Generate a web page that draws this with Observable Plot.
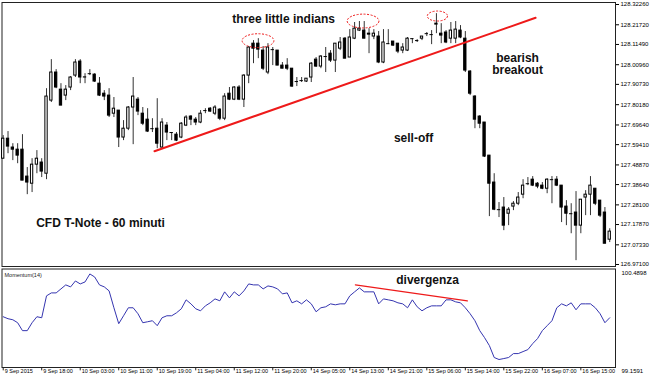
<!DOCTYPE html>
<html><head><meta charset="utf-8">
<script src="https://cdn.jsdelivr.net/npm/d3@7"></script>
<script src="https://cdn.jsdelivr.net/npm/@observablehq/plot@0.6"></script>
<style>html,body{margin:0;padding:0;background:#fff;}#chart{width:650px;height:378px;overflow:hidden;}#chart svg{display:block;}</style>
</head><body><div id="chart"></div><script>
const open = [
127.521,127.625,127.579,127.568,127.568,127.428,127.391,127.490,127.501,127.443,
127.823,127.969,127.880,127.849,127.891,127.953,128.026,127.943,127.963,127.958,
127.911,127.859,127.849,127.755,127.771,127.631,127.677,127.787,127.828,127.755,
127.724,127.677,127.677,127.579,127.693,127.657,127.646,127.631,127.693,127.740,
127.724,127.709,127.771,127.781,127.755,127.776,127.729,127.859,127.828,127.891,
127.828,127.953,128.119,128.119,128.083,127.969,128.088,128.083,128.005,128.005,
127.989,127.922,127.927,127.922,127.943,128.036,128.000,128.052,128.067,128.031,
128.093,128.145,128.047,128.145,128.187,128.187,128.171,128.156,128.156,128.021,
128.119,128.130,128.119,128.083,128.083,128.145,128.135,128.145,128.171,128.166,
128.218,128.171,128.177,128.145,128.145,128.187,128.145,127.974,127.844,127.740,
127.709,127.537,127.397,127.256,127.267,127.235,127.272,127.287,127.334,127.391,
127.412,127.391,127.381,127.365,127.412,127.412,127.381,127.272,127.235,127.241,
127.173,127.319,127.334,127.365,127.303,127.241,127.100];
const high = [
127.641,127.662,127.599,127.599,127.646,127.475,127.521,127.563,127.521,127.885,
128.036,127.984,127.911,127.901,127.948,128.036,128.036,127.963,127.984,127.963,
127.943,127.875,127.885,127.839,127.771,127.719,127.792,127.943,127.839,127.787,
127.781,127.729,127.833,127.729,127.709,127.657,127.657,127.709,127.745,127.745,
127.735,127.771,127.781,127.787,127.797,127.781,127.859,127.891,127.896,127.901,
127.958,128.104,128.135,128.145,128.104,128.119,128.099,128.083,128.021,128.041,
127.989,127.943,127.943,127.937,128.021,128.047,128.057,128.099,128.083,128.119,
128.151,128.151,128.192,128.229,128.234,128.234,128.197,128.192,128.182,128.192,
128.192,128.130,128.119,128.119,128.151,128.145,128.140,128.156,128.177,128.187,
128.275,128.223,128.187,128.229,128.234,128.213,128.182,127.979,127.849,127.745,
127.709,127.537,127.443,127.293,127.319,127.267,127.298,127.345,127.412,127.423,
127.428,127.397,127.397,127.417,127.428,127.428,127.381,127.303,127.287,127.350,
127.308,127.355,127.428,127.365,127.303,127.267,127.157];
const low = [
127.521,127.547,127.511,127.495,127.407,127.334,127.345,127.443,127.423,127.412,
127.813,127.885,127.797,127.823,127.875,127.943,127.911,127.911,127.953,127.917,
127.844,127.823,127.735,127.735,127.579,127.615,127.667,127.594,127.745,127.693,
127.657,127.657,127.573,127.573,127.615,127.615,127.610,127.625,127.688,127.693,
127.693,127.703,127.755,127.761,127.745,127.719,127.719,127.823,127.823,127.823,
127.787,127.911,128.015,128.041,127.979,127.958,128.005,128.005,127.989,127.979,
127.891,127.896,127.917,127.917,127.917,127.995,127.989,127.969,128.021,127.969,
128.083,128.041,128.047,128.140,128.182,128.145,128.067,128.140,128.015,128.015,
128.114,128.104,128.067,128.067,128.078,128.119,128.125,128.135,128.156,128.114,
128.171,128.119,128.119,128.119,128.119,128.145,127.969,127.849,127.677,127.677,
127.527,127.220,127.251,127.215,127.147,127.173,127.251,127.277,127.313,127.381,
127.376,127.365,127.360,127.339,127.287,127.376,127.189,127.173,127.131,126.991,
127.131,127.225,127.225,127.277,127.215,127.079,127.085];
const close = [
127.625,127.584,127.568,127.537,127.407,127.397,127.490,127.521,127.454,127.844,
127.969,127.891,127.797,127.880,127.943,128.021,127.943,127.944,127.963,127.922,
127.849,127.844,127.745,127.781,127.631,127.677,127.787,127.844,127.766,127.703,
127.662,127.677,127.599,127.709,127.657,127.657,127.615,127.703,127.735,127.724,
127.709,127.755,127.771,127.766,127.787,127.729,127.844,127.828,127.891,127.828,
127.953,128.099,128.093,128.088,127.989,128.099,128.088,128.005,127.989,127.989,
127.896,127.922,127.927,127.937,128.015,128.000,128.052,128.052,128.031,128.119,
128.125,128.041,128.151,128.197,128.197,128.145,128.166,128.171,128.021,128.125,
128.119,128.109,128.078,128.099,128.145,128.145,128.135,128.156,128.171,128.166,
128.223,128.161,128.125,128.187,128.192,128.151,127.979,127.859,127.724,127.703,
127.532,127.391,127.256,127.256,127.173,127.256,127.287,127.319,127.381,127.391,
127.381,127.376,127.365,127.412,127.412,127.381,127.267,127.235,127.235,127.173,
127.308,127.334,127.381,127.287,127.225,127.079,127.142];
const momentum = [
99.845,99.818,99.804,99.764,99.657,99.657,99.764,99.845,99.831,100.127,
100.167,100.167,100.221,100.275,100.248,100.328,100.288,100.315,100.423,100.382,
100.275,100.248,100.194,99.966,99.751,99.858,99.966,99.966,99.885,99.764,
99.777,99.791,99.724,99.831,99.858,99.858,99.898,99.952,100.073,100.019,
99.952,99.925,99.992,100.033,100.086,100.060,100.181,100.100,100.181,100.127,
100.194,100.288,100.275,100.275,100.221,100.261,100.248,100.221,100.154,100.167,
100.033,100.060,100.019,100.073,100.019,99.912,99.966,99.979,100.019,100.006,
100.019,100.019,100.127,100.181,100.234,100.181,100.181,100.181,100.019,100.086,
100.073,100.060,100.033,100.019,99.966,100.073,99.979,99.925,99.966,99.992,
99.992,99.992,100.073,100.073,100.046,100.033,99.966,99.885,99.791,99.657,
99.562,99.455,99.294,99.267,99.280,99.294,99.347,99.347,99.374,99.401,
99.482,99.549,99.657,99.724,99.791,99.966,100.019,99.992,100.033,99.939,
100.019,100.019,100.019,99.966,99.885,99.764,99.831];
const timeLabels = ["9 Sep 2015","9 Sep 18:00","10 Sep 03:00","10 Sep 11:00","10 Sep 19:00","11 Sep 04:00","11 Sep 12:00","11 Sep 20:00","14 Sep 05:00","14 Sep 13:00","14 Sep 21:00","15 Sep 06:00","15 Sep 14:00","15 Sep 22:00","16 Sep 07:00","16 Sep 15:00"];
const timeTickIdx = [0,8,16,24,32,40,48,56,64,72,80,88,96,104,112,120];
const priceTicks = [128.3226,128.2172,128.1149,128.0096,127.9073,127.8018,127.6964,127.5941,127.4887,127.3864,127.2810,127.1787,127.0733,126.9710];
const momTicks = [100.4898, 99.1591];
const trendX = [31.43, 110.6];
const trendY = [127.560, 128.2535];
const divX = [73.16, 96.43];
const divY = [100.275, 100.060];
const ellX = [53.04, 74.86, 90.3];
const ellY = [128.132, 128.234, 128.260];
const ellRx = [3.3, 3.3, 2.1];
const ellRy = [0.036, 0.036, 0.026];
const noteText = ["three little indians", "bearish\nbreakout", "sell-off", "CFD T-Note - 60 minuti"];
const noteX = [58.24, 106.85, 85.25, 20.22];
const noteY = [128.250, 128.0143, 127.6286, 127.1893];
const divNoteText = ["divergenza"];
const divNoteX = [88.16];
const divNoteY = [100.334];

const candles = open.map((o, i) => ({i, o, h: high[i], l: low[i], c: close[i]}));
const font = "'Liberation Sans', Arial, sans-serif";
const ink = "#111";
const red = "#ee1a1a";
const xDomain = [-0.25, 127.2];

const ellipses = (index, scales) => {
  const g = d3.create("svg:g").attr("fill", "none").attr("stroke", red).attr("stroke-width", 1).attr("stroke-dasharray", "2,1.5");
  ellX.forEach((x, k) => {
    const cx = scales.x(x), cy = scales.y(ellY[k]);
    g.append("ellipse").attr("cx", cx).attr("cy", cy)
      .attr("rx", scales.x(x + ellRx[k]) - cx)
      .attr("ry", scales.y(ellY[k] - ellRy[k]) - cy);
  });
  return g.node();
};

const topPlot = Plot.plot({
  width: 650, height: 268,
  marginLeft: 1.5, marginRight: 35, marginTop: 2, marginBottom: 2,
  style: {fontFamily: font, fontSize: "6px", background: "#fff", color: "#000"},
  x: {domain: xDomain, axis: null},
  y: {domain: [126.9606, 128.3330], axis: "right", ticks: priceTicks, tickFormat: d => d.toFixed(5), tickSize: 3, tickPadding: 2, label: null},
  marks: [
    Plot.frame({stroke: "#222"}),
    Plot.ruleX(candles, {x: "i", y1: "l", y2: "h", stroke: "#333"}),
    Plot.rect(candles, {x1: d => d.i - 0.24, x2: d => d.i + 0.24, y1: "o", y2: "c", fill: d => d.c > d.o ? "#fff" : "#000", stroke: "#000", strokeWidth: 1}),
    Plot.ruleY(candles.filter(d => d.o === d.c), {y: "o", x1: d => d.i - 0.35, x2: d => d.i + 0.35, stroke: "#000"}),
    Plot.line(trendX.map((x, k) => ({x, y: trendY[k]})), {x: "x", y: "y", stroke: red, strokeWidth: 2}),
    ellipses,
    Plot.text(noteText.map((t, k) => ({t, x: noteX[k], y: noteY[k]})), {x: "x", y: "y", text: "t", fontSize: 12, fontWeight: "bold", fill: ink, lineHeight: 1.05})
  ]
});

const botPlot = Plot.plot({
  width: 650, height: 110,
  marginLeft: 1.5, marginRight: 35, marginTop: 0.5, marginBottom: 11,
  style: {fontFamily: font, fontSize: "6px", background: "#fff", color: "#000"},
  x: {domain: xDomain, axis: null},
  y: {domain: [99.1591, 100.4898], axis: null},
  marks: [
    Plot.frame({stroke: "#222"}),
    Plot.line(momentum, {x: (d, i) => i, y: d => d, stroke: "#3535b0", strokeWidth: 1}),
    Plot.line(divX.map((x, k) => ({x, y: divY[k]})), {x: "x", y: "y", stroke: red, strokeWidth: 1.2}),
    Plot.text(divNoteText.map((t, k) => ({t, x: divNoteX[k], y: divNoteY[k]})), {x: "x", y: "y", text: "t", fontSize: 12, fontWeight: "bold", fill: ink}),
    Plot.text(["Momentum(14)"], {text: d => d, frameAnchor: "top-left", textAnchor: "start", dx: 2.5, dy: 4.5, fontSize: 5.5, fill: "#222"}),
    Plot.text(momTicks, {y: d => d, text: d => d.toFixed(4), frameAnchor: "right", textAnchor: "start", dx: 6, dy: 4}),
    Plot.ruleX(timeTickIdx, {x: d => d, y1: 99.1591, y2: 99.1591 - 0.045, stroke: "#222"}),
    Plot.text(timeTickIdx, {x: d => d, text: (d, k) => timeLabels[k], frameAnchor: "bottom", textAnchor: "start", dx: 1.5, dy: 5.5, fontSize: 5.5})
  ]
});

document.getElementById("chart").append(topPlot, botPlot);
</script></body></html>
